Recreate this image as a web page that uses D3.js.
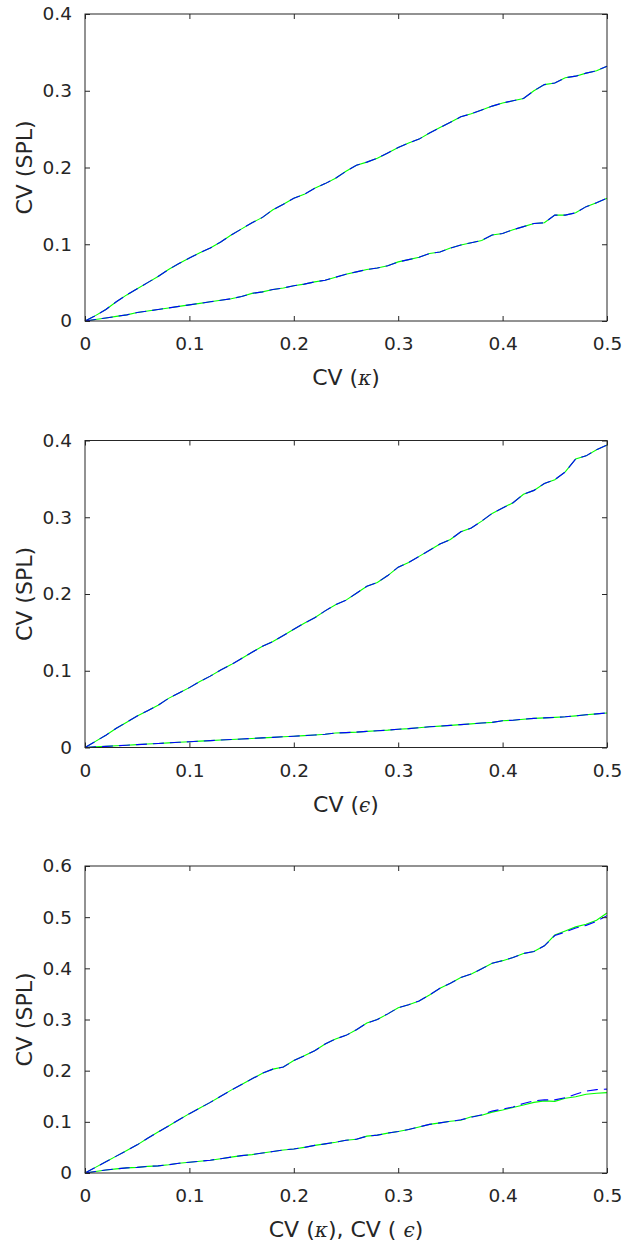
<!DOCTYPE html>
<html>
<head>
<meta charset="utf-8">
<script src="https://cdn.jsdelivr.net/npm/d3@7"></script>
<style>
  body { margin: 0; background: #fff; }
  text { font-family: "DejaVu Sans", "Liberation Sans", Arial, sans-serif; fill: #262626; }
</style>
</head>
<body>
<div id="chart"></div>
<script>
// shared x grid: coefficient of variation of the input parameter
const cvInput = [0, 0.01, 0.02, 0.03, 0.04, 0.05, 0.06, 0.07, 0.08, 0.09,
  0.10, 0.11, 0.12, 0.13, 0.14, 0.15, 0.16, 0.17, 0.18, 0.19,
  0.20, 0.21, 0.22, 0.23, 0.24, 0.25, 0.26, 0.27, 0.28, 0.29,
  0.30, 0.31, 0.32, 0.33, 0.34, 0.35, 0.36, 0.37, 0.38, 0.39,
  0.40, 0.41, 0.42, 0.43, 0.44, 0.45, 0.46, 0.47, 0.48, 0.49, 0.50];

// panel 1: CV(kappa)
const kappaUpper = [0, 0.007, 0.015, 0.025, 0.034, 0.042, 0.050, 0.058, 0.067, 0.075,
  0.082, 0.089, 0.095, 0.103, 0.112, 0.120, 0.128, 0.135, 0.145, 0.152,
  0.160, 0.165, 0.173, 0.179, 0.186, 0.195, 0.203, 0.207, 0.212, 0.219,
  0.226, 0.232, 0.237, 0.245, 0.252, 0.259, 0.266, 0.270, 0.275, 0.280,
  0.284, 0.287, 0.290, 0.300, 0.308, 0.310, 0.317, 0.319, 0.323, 0.326, 0.332];
const kappaLower = [0, 0.002, 0.004, 0.006, 0.008, 0.011, 0.013, 0.015, 0.017, 0.019,
  0.021, 0.023, 0.025, 0.027, 0.029, 0.032, 0.036, 0.038, 0.041, 0.043,
  0.046, 0.048, 0.051, 0.053, 0.057, 0.061, 0.064, 0.067, 0.069, 0.072,
  0.077, 0.080, 0.083, 0.088, 0.090, 0.095, 0.099, 0.102, 0.105, 0.112,
  0.114, 0.119, 0.123, 0.127, 0.128, 0.138, 0.138, 0.141, 0.149, 0.154, 0.160];

// panel 2: CV(epsilon)
const epsUpper = [0, 0.008, 0.016, 0.025, 0.033, 0.041, 0.048, 0.055, 0.064, 0.071,
  0.078, 0.086, 0.093, 0.101, 0.108, 0.116, 0.124, 0.132, 0.138, 0.146,
  0.154, 0.162, 0.169, 0.178, 0.186, 0.192, 0.201, 0.210, 0.215, 0.224,
  0.235, 0.241, 0.249, 0.257, 0.265, 0.271, 0.281, 0.286, 0.295, 0.305,
  0.312, 0.319, 0.330, 0.335, 0.344, 0.349, 0.359, 0.376, 0.380, 0.388, 0.394];
const epsLower = [0, 0.0008, 0.0015, 0.0022, 0.003, 0.0037, 0.0045, 0.0052, 0.006, 0.0068,
  0.0075, 0.0083, 0.009, 0.0097, 0.0104, 0.011, 0.0118, 0.0125, 0.0132, 0.014,
  0.0147, 0.0155, 0.0163, 0.0172, 0.0188, 0.0194, 0.0200, 0.021, 0.0218, 0.0226,
  0.0238, 0.0246, 0.0258, 0.027, 0.0278, 0.0288, 0.0298, 0.0308, 0.032, 0.0327,
  0.0348, 0.0356, 0.0368, 0.038, 0.0386, 0.0392, 0.040, 0.0412, 0.0426, 0.0438, 0.045];

// panel 3: both
const bothUpperBlue = [0, 0.011, 0.022, 0.033, 0.044, 0.055, 0.068, 0.080, 0.092, 0.104,
  0.116, 0.127, 0.138, 0.150, 0.162, 0.173, 0.184, 0.195, 0.203, 0.207,
  0.220, 0.229, 0.239, 0.252, 0.262, 0.269, 0.280, 0.293, 0.300, 0.311,
  0.323, 0.329, 0.336, 0.348, 0.361, 0.371, 0.382, 0.389, 0.399, 0.410,
  0.415, 0.421, 0.429, 0.433, 0.444, 0.464, 0.471, 0.479, 0.484, 0.492, 0.503];
const bothUpperGreen = [0, 0.011, 0.022, 0.033, 0.044, 0.055, 0.068, 0.080, 0.092, 0.104,
  0.116, 0.127, 0.138, 0.150, 0.162, 0.173, 0.184, 0.195, 0.203, 0.207,
  0.220, 0.229, 0.239, 0.252, 0.262, 0.269, 0.280, 0.293, 0.300, 0.311,
  0.323, 0.329, 0.336, 0.348, 0.361, 0.371, 0.382, 0.389, 0.399, 0.410,
  0.415, 0.421, 0.429, 0.433, 0.444, 0.465, 0.473, 0.481, 0.486, 0.494, 0.508];
const bothLowerBlue = [0, 0.003, 0.006, 0.008, 0.010, 0.011, 0.013, 0.014, 0.016, 0.019,
  0.021, 0.023, 0.025, 0.028, 0.031, 0.034, 0.036, 0.039, 0.042, 0.045,
  0.047, 0.050, 0.054, 0.057, 0.060, 0.064, 0.066, 0.072, 0.074, 0.078,
  0.081, 0.085, 0.090, 0.095, 0.098, 0.101, 0.104, 0.109, 0.114, 0.121,
  0.125, 0.129, 0.136, 0.141, 0.143, 0.143, 0.147, 0.154, 0.160, 0.163, 0.164];
const bothLowerGreen = [0, 0.003, 0.006, 0.008, 0.010, 0.011, 0.013, 0.014, 0.016, 0.019,
  0.021, 0.023, 0.025, 0.028, 0.031, 0.034, 0.036, 0.039, 0.042, 0.045,
  0.047, 0.050, 0.054, 0.057, 0.060, 0.064, 0.066, 0.072, 0.074, 0.078,
  0.081, 0.085, 0.090, 0.095, 0.098, 0.101, 0.103, 0.110, 0.113, 0.119,
  0.123, 0.128, 0.133, 0.138, 0.141, 0.140, 0.146, 0.149, 0.154, 0.156, 0.157];

const xTicks = [0, 0.1, 0.2, 0.3, 0.4, 0.5];
const yTicksSmall = [0, 0.1, 0.2, 0.3, 0.4];
const yTicksLarge = [0, 0.1, 0.2, 0.3, 0.4, 0.5, 0.6];

const panels = [
  { top: 14, yMax: 0.4, yTicks: yTicksSmall, green: [kappaUpper, kappaLower], blue: [kappaUpper, kappaLower],
    xlabel: [["CV (", false], ["\u03BA", true], [")", false]] },
  { top: 440.5, yMax: 0.4, yTicks: yTicksSmall, green: [epsUpper, epsLower], blue: [epsUpper, epsLower],
    xlabel: [["CV (", false], ["\u03F5", true], [")", false]] },
  { top: 866, yMax: 0.6, yTicks: yTicksLarge, green: [bothUpperGreen, bothLowerGreen], blue: [bothUpperBlue, bothLowerBlue],
    xlabel: [["CV (", false], ["\u03BA", true], ["), CV ( ", false], ["\u03F5", true], [")", false]] }
];

const width = 624, height = 1245;
const left = 85, right = 607, plotH = 307;
const fmt = d => d === 0 ? "0" : d3.format(".1f")(d);

const svg = d3.select("#chart").append("svg")
  .attr("width", width)
  .attr("height", height);

panels.forEach(p => {
  const x = d3.scaleLinear().domain([0, 0.5]).range([left, right]);
  const y = d3.scaleLinear().domain([0, p.yMax]).range([p.top + plotH, p.top]);
  const g = svg.append("g");

  // lines: green solid underneath, blue dashed on top
  const line = d3.line().x((d, i) => x(cvInput[i])).y(d => y(d));
  p.green.forEach(s => {
    g.append("path").datum(s).attr("d", line)
      .attr("fill", "none").attr("stroke", "#00ff00").attr("stroke-width", 1.1);
  });
  p.blue.forEach(s => {
    g.append("path").datum(s).attr("d", line)
      .attr("fill", "none").attr("stroke", "#0000ff").attr("stroke-width", 1.1)
      .attr("stroke-dasharray", "11,6");
  });

  // axes with inward ticks, mirrored on top and right
  const axStyle = sel => {
    sel.select(".domain").remove();
    sel.selectAll("line").attr("stroke", "#262626");
    sel.selectAll("text").attr("font-size", 18.5).attr("fill", "#262626")
      .attr("font-family", '"DejaVu Sans", "Liberation Sans", Arial, sans-serif');
  };
  g.append("g").attr("transform", `translate(0,${p.top + plotH})`)
    .call(d3.axisBottom(x).tickValues(xTicks).tickFormat(fmt).tickSizeInner(-5).tickSizeOuter(0).tickPadding(16))
    .call(axStyle);
  g.append("g").attr("transform", `translate(0,${p.top})`)
    .call(d3.axisTop(x).tickValues(xTicks).tickFormat("").tickSizeInner(-5).tickSizeOuter(0))
    .call(axStyle);
  g.append("g").attr("transform", `translate(${left},0)`)
    .call(d3.axisLeft(y).tickValues(p.yTicks).tickFormat(fmt).tickSizeInner(-5).tickSizeOuter(0).tickPadding(13))
    .call(axStyle);
  g.append("g").attr("transform", `translate(${right},0)`)
    .call(d3.axisRight(y).tickValues(p.yTicks).tickFormat("").tickSizeInner(-5).tickSizeOuter(0))
    .call(axStyle);

  // box
  g.append("rect")
    .attr("x", left).attr("y", p.top)
    .attr("width", right - left).attr("height", plotH)
    .attr("fill", "none").attr("stroke", "#262626").attr("stroke-width", 1);

  // y label
  g.append("text")
    .attr("transform", `translate(32,${p.top + plotH / 2}) rotate(-90)`)
    .attr("text-anchor", "middle")
    .attr("font-size", 22)
    .text("CV (SPL)");

  // x label with italic greek letters
  const xl = g.append("text")
    .attr("x", (left + right) / 2)
    .attr("y", p.top + plotH + 64)
    .attr("text-anchor", "middle")
    .attr("font-size", 22);
  p.xlabel.forEach(([t, it]) => {
    const ts = xl.append("tspan").text(t);
    if (it) ts.attr("font-style", "italic").attr("font-family", '"DejaVu Serif", "Liberation Serif", serif').attr("font-size", 20);
  });
});
</script>
</body>
</html>
